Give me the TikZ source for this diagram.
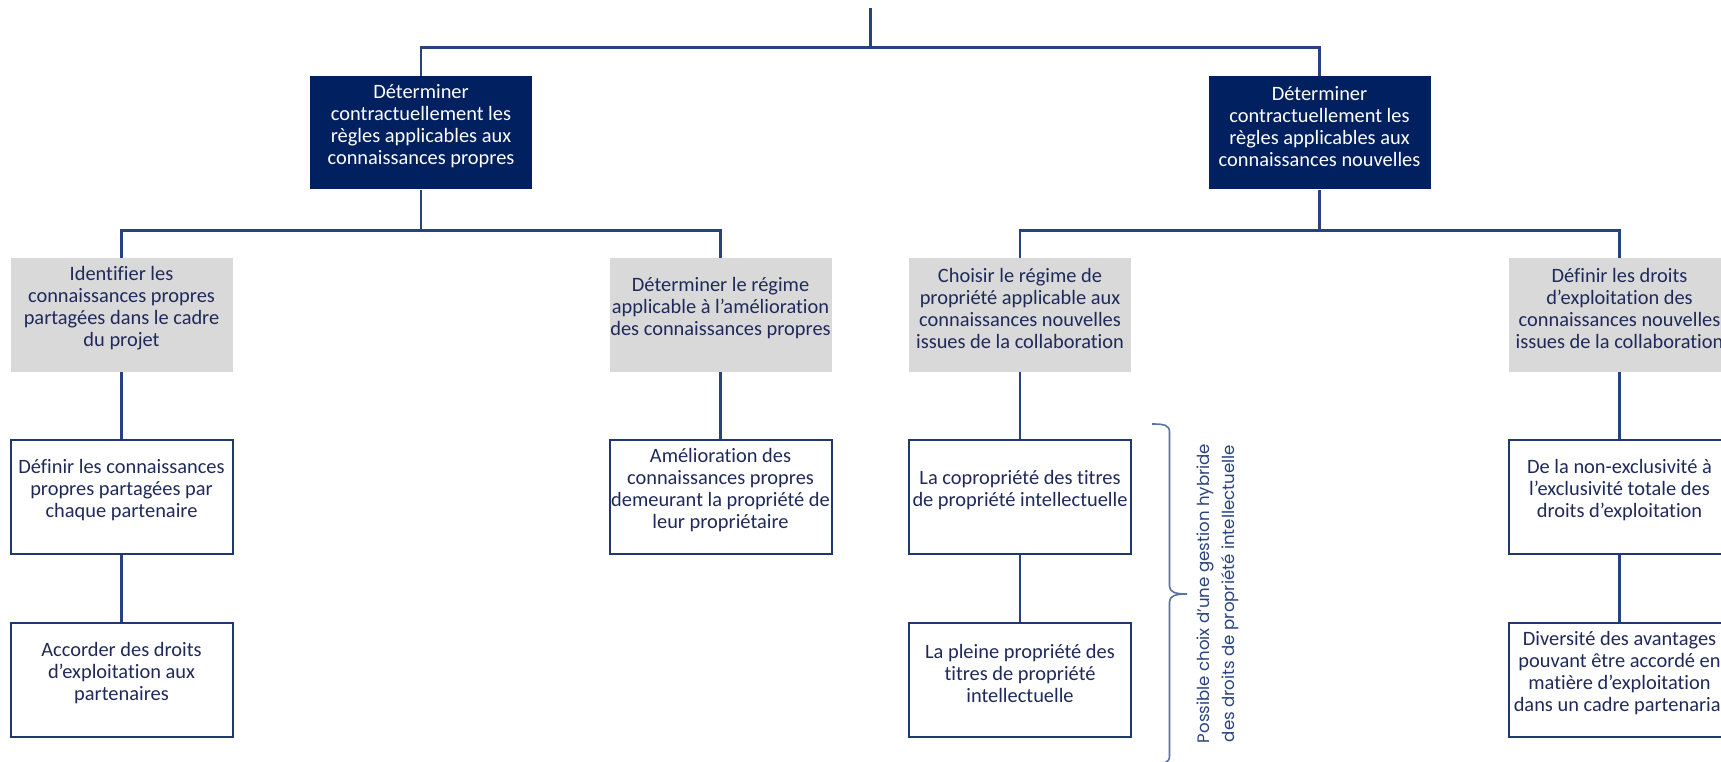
\documentclass[tikz,border=0pt]{standalone}
\usepackage{fontspec}
\setmainfont{Carlito}[Ligatures={NoCommon}]
\newfontfamily\gothicfont{Poppins}
\definecolor{navyfill}{RGB}{0,32,96}
\definecolor{greyfill}{RGB}{217,217,217}
\definecolor{txtcol}{RGB}{31,42,90}
\definecolor{bordercol}{RGB}{31,56,110}
\definecolor{linecol}{RGB}{40,66,128}
\definecolor{bracecol}{RGB}{88,116,166}
\definecolor{notecol}{RGB}{42,68,124}
\newcommand\boxfont{\fontsize{20.4pt}{22pt}\selectfont}
\tikzset{
  darkbox/.style={rectangle, fill=navyfill, minimum width=222pt, minimum height=113.5pt, inner sep=0pt},
  greybox/.style={rectangle, fill=greyfill, minimum width=222pt, minimum height=114pt, inner sep=0pt},
  whitebox/.style={rectangle, draw=bordercol, line width=2pt, fill=white, minimum width=222pt, minimum height=114pt, inner sep=0pt},
  txt/.style={align=center, inner sep=0pt, font=\boxfont, text=txtcol, yshift=6.5pt},
  wtxt/.style={txt, text=white},
  conn/.style={draw=linecol, line width=2.2pt},
  notetxt/.style={align=center, inner sep=0pt, rotate=90, text=notecol, font=\gothicfont\fontsize{16.6pt}{25pt}\selectfont},
}
\begin{document}
\begin{tikzpicture}[x=1pt,y=-1pt]
\clip (0,0) rectangle (1721,762);
\fill[white] (0,0) rectangle (1721,762);
% level 1
\node[darkbox] (d1) at (421,132.75) {};
\node[wtxt] (d1t) at (d1) {Déterminer\\contractuellement les\\règles applicables aux\\connaissances propres};
\node[darkbox] (d2) at (1319.5,132.75) {};
\node[wtxt] (d2t) at (d2) {Déterminer\\contractuellement les\\règles applicables aux\\connaissances nouvelles};
% level 2
\node[greybox] (g1) at (121.5,315) {};
\node[txt] (g1t) at (g1) {Identifier les\\connaissances propres\\partagées dans le cadre\\du projet};
\node[greybox] (g2) at (720.5,315) {};
\node[txt] (g2t) at (g2) {Déterminer le régime\\applicable à l’amélioration\\des connaissances propres};
\node[greybox] (g3) at (1020,315) {};
\node[txt] (g3t) at (g3) {Choisir le régime de\\propriété applicable aux\\connaissances nouvelles\\issues de la collaboration};
\node[greybox] (g4) at (1619.5,315) {};
\node[txt] (g4t) at (g4) {Définir les droits\\d’exploitation des\\connaissances nouvelles\\issues de la collaboration};
% level 3
\node[whitebox] (w1) at (121.5,497) {};
\node[txt] (w1t) at (w1) {Définir les connaissances\\propres partagées par\\chaque partenaire};
\node[whitebox] (w2) at (720.5,497) {};
\node[txt] (w2t) at (w2) {Amélioration des\\connaissances propres\\demeurant la propriété de\\leur propriétaire};
\node[whitebox] (w3) at (1020,497) {};
\node[txt] (w3t) at (w3) {La copropriété des titres\\de propriété intellectuelle};
\node[whitebox] (w4) at (1619.5,497) {};
\node[txt] (w4t) at (w4) {De la non-exclusivité à\\l’exclusivité totale des\\droits d’exploitation};
% level 4
\node[whitebox] (v1) at (121.5,679.5) {};
\node[txt] (v1t) at (v1) {Accorder des droits\\d’exploitation aux\\partenaires};
\node[whitebox] (v3) at (1020,679.5) {};
\node[txt] (v3t) at (v3) {La pleine propriété des\\titres de propriété\\intellectuelle};
\node[whitebox] (v4) at (1619.5,679.5) {};
\node[txt] (v4t) at (v4) {Diversité des avantages\\pouvant être accordé en\\matière d’exploitation\\dans un cadre partenarial};
% connectors
\coordinate (top) at (870.5,8);
\coordinate (bar0) at (870.5,47.5);
\coordinate (bar1) at (421,230.5);
\coordinate (bar2) at (1319.5,230.5);
\draw[conn] (top) -- (bar0);
\draw[conn] (d1.north) -- (d1.north |- bar0) -- (d2.north |- bar0) -- (d2.north);
\draw[conn] (d1.south) -- (bar1);
\draw[conn] (g1.north) -- (g1.north |- bar1) -- (g2.north |- bar1) -- (g2.north);
\draw[conn] (d2.south) -- (bar2);
\draw[conn] (g3.north) -- (g3.north |- bar2) -- (g4.north |- bar2) -- (g4.north);
\draw[conn] (g1.south) -- (w1.north);
\draw[conn] (w1.south) -- (v1.north);
\draw[conn] (g2.south) -- (w2.north);
\draw[conn] (g3.south) -- (w3.north);
\draw[conn] (w3.south) -- (v3.north);
\draw[conn] (g4.south) -- (w4.north);
\draw[conn] (w4.south) -- (v4.north);
% brace
\coordinate (brtop) at (1152,424);
\coordinate (brtip) at (1187,594);
\coordinate (brbot) at (1152,764);
\draw[bracecol, line width=1.6pt]
  (brtop) .. controls (1164,424) and (1169.5,425) .. (1169.5,432)
  -- (1169.5,586) .. controls (1169.5,592) and (1175,594) .. (brtip)
  .. controls (1175,594) and (1169.5,596) .. (1169.5,602)
  -- (1169.5,756) .. controls (1169.5,763) and (1164,764) .. (brbot);
\node[notetxt] (note) at (1217.5,593.5) {Possible choix d’une gestion hybride\\des droits de propriété intellectuelle};
\end{tikzpicture}
\end{document}
